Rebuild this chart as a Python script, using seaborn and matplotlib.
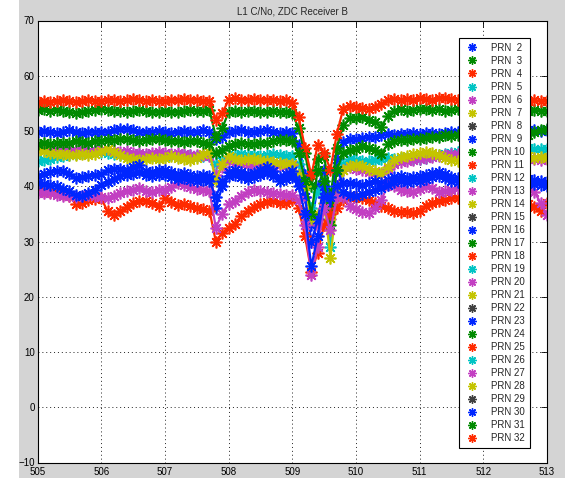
import numpy as np
import pandas as pd
import matplotlib
matplotlib.use("Agg")
import matplotlib.pyplot as plt
from matplotlib.lines import Line2D
from matplotlib.patches import Rectangle
import seaborn as sns

# ---------------- data ----------------
time_axis = [505.0, 505.1, 505.2, 505.3, 505.4, 505.5, 505.6, 505.7, 505.8, 505.9,
             506.0, 506.1, 506.2, 506.3, 506.4, 506.5, 506.6, 506.7, 506.8, 506.9,
             507.0, 507.1, 507.2, 507.3, 507.4, 507.5, 507.6, 507.7, 507.8, 507.9,
             508.0, 508.1, 508.2, 508.3, 508.4, 508.5, 508.6, 508.7, 508.8, 508.9,
             509.0, 509.1, 509.2, 509.3, 509.4, 509.5, 509.6, 509.7, 509.8, 509.9,
             510.0, 510.1, 510.2, 510.3, 510.4, 510.5, 510.6, 510.7, 510.8, 510.9,
             511.0, 511.1, 511.2, 511.3, 511.4, 511.5, 511.6, 511.7, 511.8, 511.9,
             512.0, 512.1, 512.2, 512.3, 512.4, 512.5, 512.6, 512.7, 512.8, 512.9,
             513.0]

prn_2 = [49.9, 50.0, 49.8, 49.7, 49.9, 50.1, 49.8, 49.6, 49.8, 49.9,
         49.8, 49.9, 50.1, 50.3, 50.4, 50.1, 49.9, 49.8, 49.9, 50.0,
         49.8, 49.7, 49.9, 50.0, 49.8, 49.9, 50.1, 49.9, 48.5, 49.0,
         49.8, 50.0, 50.2, 49.9, 49.8, 50.0, 50.1, 49.9, 49.7, 49.8,
         49.6, 47.5, 42.0, 33.0, 40.0, 43.0, 36.0, 45.0, 48.0, 48.5,
         48.6, 48.8, 48.9, 49.0, 49.3, 49.4, 49.3, 49.5, 49.4, 49.6,
         49.5, 49.7, 49.6, 49.5, 49.7, 49.8, 49.9, 49.8, 50.0, 50.0,
         50.0, 50.1, 49.9, 50.0, 50.2, 50.1, 50.0, 50.2, 50.1, 50.0,
         50.2]

prn_3 = [53.8, 53.9, 53.7, 53.8, 53.6, 53.4, 53.3, 53.5, 53.6, 53.8,
         53.9, 53.8, 53.6, 53.7, 53.5, 53.6, 53.8, 53.7, 53.5, 53.4,
         53.6, 53.5, 53.4, 53.6, 53.8, 53.7, 53.6, 53.8, 49.0, 50.5,
         53.4, 53.6, 53.5, 53.7, 53.6, 53.4, 53.5, 53.6, 53.4, 53.5,
         53.2, 50.5, 46.0, 40.0, 45.0, 45.5, 38.0, 47.0, 51.0, 52.3,
         52.4, 52.6, 52.0, 51.6, 50.8, 52.8, 53.6, 53.9, 53.7, 53.8,
         53.9, 54.0, 53.8, 53.9, 53.7, 53.8, 53.9, 53.8, 53.7, 53.8,
         53.7, 53.8, 53.6, 53.7, 53.8, 53.6, 53.7, 53.6, 53.8, 53.7,
         53.6]

prn_4 = [55.2, 55.4, 55.3, 55.5, 55.6, 55.4, 55.3, 55.5, 55.6, 55.5,
         55.4, 55.6, 55.7, 55.5, 55.6, 55.8, 55.7, 55.5, 55.6, 55.4,
         55.5, 55.7, 55.6, 55.8, 55.7, 55.6, 55.5, 55.4, 52.0, 53.2,
         55.6, 55.9, 55.7, 55.6, 55.8, 55.7, 55.6, 55.7, 55.5, 55.6,
         55.0, 52.5, 47.0, 42.0, 47.5, 46.0, 43.0, 49.5, 54.0, 54.6,
         54.4, 54.2, 54.0, 54.3, 54.8, 55.6, 55.8, 55.7, 55.8, 55.7,
         55.9, 55.8, 55.7, 55.9, 56.0, 55.8, 55.7, 55.8, 55.7, 55.8,
         55.7, 55.8, 55.6, 55.7, 55.8, 55.6, 55.7, 55.5, 55.6, 55.4,
         55.5]

prn_5 = [44.5, 44.7, 44.9, 45.3, 45.5, 45.7, 45.9, 46.0, 46.2, 46.3,
         46.2, 46.0, 45.8, 45.6, 45.7, 45.5, 45.6, 45.4, 45.5, 45.3,
         45.5, 45.6, 45.4, 45.6, 45.7, 45.5, 45.4, 45.6, 44.0, 44.5,
         45.3, 45.7, 45.8, 45.6, 45.7, 45.5, 45.6, 45.8, 45.7, 45.5,
         45.5, 44.0, 40.0, 36.0, 39.0, 40.0, 29.0, 38.5, 44.0, 45.0,
         44.8, 44.6, 44.5, 44.8, 45.0, 45.2, 45.0, 45.1, 45.2, 45.0,
         45.0, 45.2, 45.4, 45.6, 45.8, 46.0, 46.2, 46.3, 46.4, 46.5,
         46.5, 46.6, 46.7, 46.6, 46.8, 46.7, 46.8, 46.9, 46.8, 46.7,
         46.8]

prn_6 = [47.0, 47.2, 47.0, 46.8, 46.9, 46.7, 46.5, 46.6, 46.4, 46.5,
         46.6, 46.7, 46.4, 46.2, 46.3, 46.0, 46.1, 45.9, 46.0, 46.2,
         46.0, 45.9, 46.1, 45.8, 45.7, 45.6, 45.6, 45.5, 42.0, 43.5,
         44.5, 44.2, 44.0, 43.9, 44.1, 43.8, 44.0, 43.7, 43.8, 43.6,
         43.8, 42.0, 38.0, 30.0, 33.0, 38.0, 34.0, 40.0, 43.0, 43.5,
         43.2, 43.0, 42.6, 42.4, 42.3, 43.2, 44.0, 44.3, 44.5, 44.7,
         44.9, 45.1, 45.3, 45.5, 45.7, 45.8, 45.9, 45.7, 45.6, 45.5,
         45.4, 45.3, 45.2, 45.1, 45.0, 45.1, 45.0, 44.9, 45.0, 44.8,
         44.9]

prn_7 = [46.6, 46.3, 46.0, 45.8, 45.9, 45.7, 45.6, 45.8, 45.7, 45.9,
         46.4, 46.8, 46.2, 45.6, 45.2, 44.9, 44.7, 44.9, 45.1, 45.0,
         45.2, 45.4, 45.1, 45.0, 44.8, 45.2, 45.8, 46.2, 41.0, 44.0,
         45.4, 45.0, 44.8, 44.9, 45.0, 44.8, 44.6, 44.3, 44.2, 44.0,
         44.0, 42.0, 40.0, 34.0, 35.0, 37.0, 27.0, 37.5, 43.0, 43.6,
         43.8, 43.6, 43.2, 42.8, 42.4, 43.5, 44.8, 45.3, 45.5, 45.8,
         46.0, 46.2, 46.1, 45.6, 45.2, 44.8, 44.6, 44.8, 45.0, 45.2,
         45.3, 45.1, 45.0, 45.2, 45.4, 45.3, 45.5, 45.4, 45.2, 45.3,
         45.2]

prn_9 = [41.8, 42.2, 42.6, 42.8, 42.7, 42.3, 41.5, 41.6, 41.9, 42.1,
         42.3, 42.9, 43.1, 43.2, 43.0, 43.4, 43.8, 42.8, 42.6, 43.0,
         42.9, 42.5, 42.2, 42.4, 42.0, 41.8, 42.0, 41.9, 36.0, 40.0,
         42.6, 43.0, 42.6, 42.2, 42.4, 42.9, 43.4, 42.8, 41.6, 42.3,
         42.8, 41.0, 38.0, 30.0, 34.0, 40.0, 36.0, 43.0, 40.5, 40.5,
         40.4, 40.2, 40.6, 40.9, 40.5, 41.2, 41.6, 41.8, 41.5, 41.6,
         41.8, 42.0, 42.4, 42.6, 42.2, 41.7, 41.5, 41.6, 41.8, 41.7,
         41.6, 41.8, 41.9, 41.7, 41.5, 41.8, 41.6, 41.4, 41.2, 41.0,
         40.8]

prn_10 = [47.7, 47.8, 47.6, 47.8, 47.9, 47.8, 48.1, 48.0, 47.9, 48.1,
          48.2, 48.4, 48.3, 48.5, 48.6, 48.4, 48.2, 48.4, 48.6, 48.5,
          48.3, 48.1, 48.2, 48.0, 48.2, 48.1, 47.9, 47.6, 46.0, 46.5,
          47.3, 47.6, 47.8, 47.7, 47.6, 47.8, 47.9, 48.2, 48.3, 48.4,
          48.2, 46.0, 41.0, 35.0, 43.0, 41.0, 33.0, 43.0, 46.0, 46.5,
          46.7, 47.2, 47.0, 46.6, 45.9, 47.6, 48.2, 48.4, 48.3, 48.5,
          48.6, 48.7, 48.9, 49.0, 49.2, 49.1, 49.3, 49.2, 49.0, 48.9,
          48.8, 48.7, 48.6, 48.5, 48.6, 48.5, 48.8, 49.3, 49.8, 50.2,
          50.4]

prn_11 = [39.4, 39.2, 39.0, 38.9, 38.6, 38.2, 36.8, 37.0, 37.6, 37.7,
          37.8, 35.5, 34.8, 35.5, 36.2, 37.0, 37.3, 37.4, 37.0, 36.4,
          37.8, 37.2, 36.6, 36.8, 36.4, 36.0, 35.8, 35.6, 30.0, 31.5,
          32.5, 33.2, 34.6, 35.5, 36.2, 36.8, 37.2, 37.4, 37.0, 37.0,
          37.6, 36.0, 31.0, 24.5, 28.0, 33.0, 35.0, 36.0, 37.5, 38.0,
          38.0, 37.9, 37.6, 37.0, 36.5, 36.0, 35.6, 35.3, 35.4, 35.2,
          35.6, 36.4, 37.0, 37.3, 37.6, 37.8, 37.9, 37.7, 37.5, 37.8,
          37.6, 37.8, 37.5, 37.7, 37.6, 37.4, 37.1, 36.8, 36.2, 35.6,
          37.0]

prn_13 = [38.8, 38.7, 38.8, 38.5, 38.3, 38.2, 38.1, 38.3, 38.4, 38.2,
          38.0, 37.8, 38.2, 38.8, 39.2, 39.4, 39.6, 39.2, 39.0, 39.4,
          39.3, 39.8, 40.6, 40.2, 39.8, 39.5, 39.3, 39.2, 32.5, 35.0,
          36.8, 37.4, 38.2, 38.9, 39.4, 39.2, 39.0, 38.8, 38.6, 38.4,
          38.5, 37.5, 33.0, 24.0, 29.0, 36.0, 32.0, 38.0, 38.0, 36.5,
          35.8, 35.3, 35.2, 36.0, 37.5, 40.2, 40.0, 39.4, 39.2, 39.0,
          39.5, 40.0, 39.6, 38.9, 39.2, 39.4, 39.6, 39.5, 39.7, 39.8,
          39.6, 39.8, 39.9, 39.7, 39.8, 39.6, 39.8, 39.6, 39.0, 37.0,
          34.8]

prn_16 = [40.6, 40.4, 40.3, 40.0, 39.5, 39.1, 38.5, 38.3, 38.8, 39.4,
          40.2, 40.8, 41.4, 41.8, 42.0, 42.2, 42.6, 42.0, 41.8, 42.1,
          42.0, 41.7, 41.4, 41.5, 41.2, 41.0, 41.1, 41.0, 38.0, 41.0,
          41.8, 42.1, 41.7, 41.4, 41.6, 42.0, 42.4, 41.9, 40.9, 41.4,
          41.6, 40.0, 35.0, 25.5, 31.0, 38.0, 38.0, 40.0, 39.0, 38.5,
          38.3, 38.6, 39.0, 39.3, 39.6, 40.2, 40.8, 41.0, 40.7, 40.9,
          41.0, 41.3, 41.6, 41.9, 41.5, 41.0, 40.8, 40.9, 41.0, 40.9,
          40.8, 41.0, 41.1, 40.9, 40.7, 41.0, 40.8, 40.6, 40.4, 40.2,
          40.0]

prn_list = list(range(2, 33))
prn_data = {2: prn_2, 3: prn_3, 4: prn_4, 5: prn_5, 6: prn_6, 7: prn_7,
            9: prn_9, 10: prn_10, 11: prn_11, 13: prn_13, 16: prn_16}

title_text = "L1 C/No, ZDC Receiver B"
x_ticks = [505, 506, 507, 508, 509, 510, 511, 512, 513]
y_ticks = [-10, 0, 10, 20, 30, 40, 50, 60, 70]

# ---------------- style ----------------
matlab_colors = ["#0026ff", "#008a00", "#ff2a00", "#00c4c4", "#c23fc2", "#c4c400", "#404040"]

sns.set_style("white")
plt.rcParams["font.family"] = ["Liberation Sans", "DejaVu Sans"]

W, H = 565, 478
fig = plt.figure(figsize=(W / 100, H / 100), dpi=100, facecolor="#d4d4d4")
fig.patches.append(Rectangle((0, 0), 19 / W, 1, transform=fig.transFigure,
                             facecolor="white", edgecolor="none", zorder=-1))
ax = fig.add_axes([37.5 / W, 1 - 462.5 / H, 509.5 / W, 442 / H])
ax.set_facecolor("white")

rows = []
for prn, vals in prn_data.items():
    for t, v in zip(time_axis, vals):
        rows.append({"time": t, "cno": v, "prn": prn})
df = pd.DataFrame(rows)

star = (8, 2, 0)
handles = []
for prn in prn_list:
    color = matlab_colors[(prn - 2) % 7]
    if prn in prn_data:
        sub = df[df["prn"] == prn]
        sns.lineplot(data=sub, x="time", y="cno", color=color, ax=ax,
                     linewidth=1.6, marker=star, markersize=8.5, markeredgewidth=1.2,
                     markeredgecolor=color, estimator=None, sort=False, legend=False)
    handles.append(Line2D([], [], color=color, marker=star, linestyle="none",
                          markersize=6, markeredgewidth=1.0, label=f"PRN {prn:2d}"))

ax.set_xlim(505, 513)
ax.set_ylim(-10, 70)
ax.set_xticks(x_ticks)
ax.set_yticks(y_ticks)
ax.set_xlabel("")
ax.set_ylabel("")
ax.tick_params(direction="in", top=True, right=True, length=4, width=0.6,
               labelsize=7, colors="black", pad=2)
ax.tick_params(axis="x", pad=3)
ax.grid(True, color="#222222", linestyle=(0, (1, 3)), linewidth=0.7)
for s in ax.spines.values():
    s.set_color("black")
    s.set_linewidth(0.8)
ax.set_title(title_text, fontsize=7, pad=4)

leg = ax.legend(handles=handles, loc="upper left",
                bbox_to_anchor=((459 - 37.5) / 509.5, 1 - (38 - 20.5) / 442),
                fontsize=7, frameon=True, fancybox=False, framealpha=1,
                edgecolor="black", handlelength=1.6, handletextpad=1.2,
                labelspacing=0.31, borderpad=0.5, borderaxespad=0)
leg.get_frame().set_linewidth(0.8)

fig.savefig("out.png", dpi=100, facecolor=fig.get_facecolor())
